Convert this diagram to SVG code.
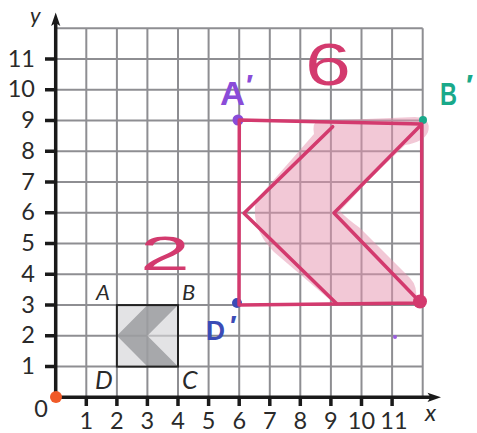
<svg xmlns="http://www.w3.org/2000/svg" width="477" height="433" viewBox="0 0 477 433">
<style>
.grid{stroke:#8e8e92;stroke-width:2;fill:none}
.axis{stroke:#1a1a1a;stroke-width:3.5;fill:none}
.tick{stroke:#1a1a1a;stroke-width:3.5}
.num{font-family:Lato,"Liberation Sans",sans-serif;font-size:23.5px;fill:#2a2a2a}
.lbl{font-family:Lato,"Liberation Sans",sans-serif;font-style:italic;fill:#2a2a2a}
.pink{stroke:#d33a6e;stroke-width:3.5;fill:none;stroke-linejoin:round;stroke-linecap:round}
.hand{font-family:"Liberation Sans",Arial,sans-serif;font-weight:bold}
.digit{font-family:"Liberation Sans",Arial,sans-serif;font-weight:normal;fill:#d33a6e}
</style>
<rect width="477" height="433" fill="#ffffff"/>
<g id="grid" class="grid">
<path d="M86.3 28.3V397.3M116.9 28.3V397.3M147.4 28.3V397.3M178 28.3V397.3M208.6 28.3V397.3M239.2 28.3V397.3M269.8 28.3V397.3M300.3 28.3V397.3M330.9 28.3V397.3M361.5 28.3V397.3M392.1 28.3V397.3M422.7 28.3V397.3"/>
<path d="M55.7 366.6H422.7M55.7 335.8H422.7M55.7 305.1H422.7M55.7 274.3H422.7M55.7 243.6H422.7M55.7 212.8H422.7M55.7 182.1H422.7M55.7 151.3H422.7M55.7 120.6H422.7M55.7 89.8H422.7M55.7 59.1H422.7M55.7 28.3H422.7"/>
</g>
<g id="axes">
<path class="axis" d="M55.7 399V22M53 397.3H432"/>
<path d="M55.7 12.5L60.3 26L55.7 23L51.1 26Z" fill="#1a1a1a"/>
<path d="M441 397.3L427.5 401.9L430.5 397.3L427.5 392.7Z" fill="#1a1a1a"/>
<path class="tick" d="M45 366.6H55.7M45 335.8H55.7M45 305.1H55.7M45 274.3H55.7M45 243.6H55.7M45 212.8H55.7M45 182.1H55.7M45 151.3H55.7M45 120.6H55.7M45 89.8H55.7M45 59.1H55.7"/>
<path class="tick" d="M86.3 397.3V406M116.9 397.3V406M147.4 397.3V406M178 397.3V406M208.6 397.3V406M239.2 397.3V406M269.8 397.3V406M300.3 397.3V406M330.9 397.3V406M361.5 397.3V406M392.1 397.3V406"/>
</g>
<g id="axis-labels">
<g class="num" text-anchor="end">
<text x="35" y="374">1</text><text x="35" y="343">2</text><text x="35" y="312.5">3</text><text x="35" y="281.5">4</text><text x="35" y="251">5</text><text x="35" y="220">6</text><text x="35" y="189.5">7</text><text x="35" y="158.5">8</text><text x="35" y="128">9</text><text x="35" y="97">10</text><text x="35" y="66.5">11</text>
<text x="48" y="417">0</text>
</g>
<g class="num" text-anchor="middle">
<text x="86.3" y="429">1</text><text x="116.9" y="429">2</text><text x="147.4" y="429">3</text><text x="178" y="429">4</text><text x="208.6" y="429">5</text><text x="239.2" y="429">6</text><text x="269.8" y="429">7</text><text x="300.3" y="429">8</text><text x="330.9" y="429">9</text><text x="361.5" y="429">10</text><text x="394" y="429">11</text>
</g>
<text class="lbl" x="425" y="421" font-size="24">x</text>
<text class="lbl" x="30" y="23" font-size="22">y</text>
</g>
<g id="origin-dot"><circle cx="56" cy="397" r="6" fill="#f05a28"/></g>
<g id="square-ABCD">
<rect x="116.9" y="305.1" width="61.1" height="61.5" fill="#e3e3e5"/>
<polygon points="147.4,305.1 178,305.1 147.4,335.8 178,366.6 147.4,366.6 116.9,335.8" fill="#a7a8ab"/>
<path d="M147.4 305.1V366.6M116.9 335.8H178" stroke="#8e8e92" stroke-width="2" opacity="0.45"/>
<rect x="116.9" y="305.1" width="61.1" height="61.5" fill="none" stroke="#222" stroke-width="2"/>
<text class="lbl" x="96" y="299.5" font-size="22">A</text>
<text class="lbl" x="182" y="299.5" font-size="22">B</text>
<text class="lbl" x="95" y="388.5" font-size="25">D</text>
<text class="lbl" x="182" y="388.5" font-size="25">C</text>
</g>
<g id="highlight">
<path d="M318 121L415 117Q432 118 428 132Q424 142 405 145L372 177L340 211Q346 218 360 228L410 278Q418 286 416 302L336 305L274 252Q250 228 256 200L314 134Q312 122 318 121Z" fill="#e592ad" opacity="0.5"/>
</g>
<g id="image-points">
<circle cx="238" cy="120" r="5.5" fill="#8a4cd8"/>
<circle cx="423" cy="120" r="4" fill="#19a98a"/>
<circle cx="237" cy="303" r="5" fill="#3b4bb6"/>
<circle cx="395" cy="337" r="2" fill="#9a5ce0"/>
</g>
<g id="image-figure">
<path class="pink" d="M239.3 120L421.7 124V303L239 305Z"/>
<path class="pink" d="M332.7 126.7L244 213.3L336.5 303.5M421 125L334 213L420 302"/>
<circle cx="420" cy="301.5" r="7" fill="#d33a6e"/>
</g>
<g id="handwritten-labels">
<text class="hand" fill="#8a4cd8" font-size="34"><tspan x="220" y="105" textLength="25" lengthAdjust="spacingAndGlyphs">A</tspan><tspan x="246" y="95" font-size="30">′</tspan></text>
<text class="hand" fill="#19a98a" font-size="32"><tspan x="440" y="105" textLength="17" lengthAdjust="spacingAndGlyphs">B</tspan><tspan x="466" y="95" font-size="30">′</tspan></text>
<text class="hand" fill="#3b4bb6" font-size="28"><tspan x="206" y="340" textLength="19" lengthAdjust="spacingAndGlyphs">D</tspan><tspan x="230" y="335" font-size="28">′</tspan></text>
<text class="digit" font-size="60" x="305" y="85" textLength="46" lengthAdjust="spacingAndGlyphs">6</text>
<text class="digit" font-size="49" x="140" y="270" textLength="50" lengthAdjust="spacingAndGlyphs">2</text>
</g>
</svg>
